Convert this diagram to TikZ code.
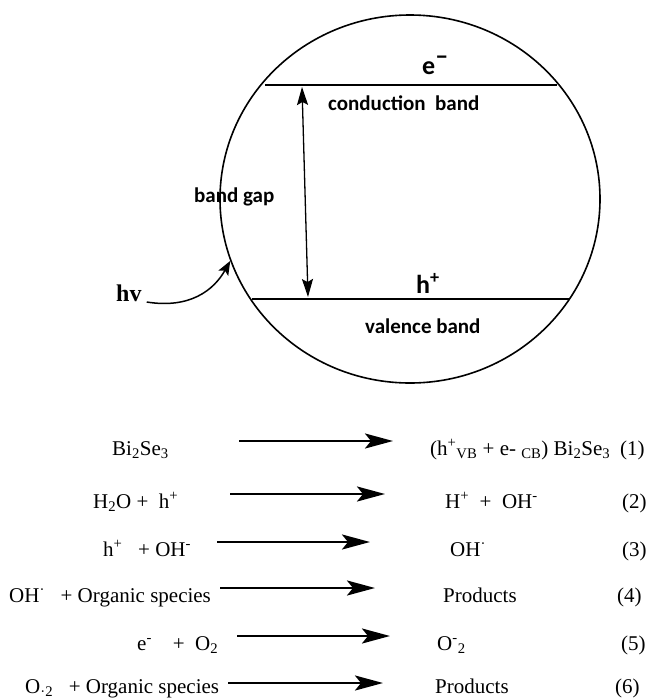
\documentclass[tikz,border=0pt]{standalone}
\usepackage{fontspec}
\setmainfont{Liberation Serif}
\newfontfamily\calfont{Carlito}
\usetikzlibrary{arrows.meta,shapes.geometric}
\tikzset{
  rxn/.style={line width=2.6pt,-{Stealth[length=28pt,width=15pt,inset=6pt]}},
  band/.style={line width=2pt},
  eq/.style={anchor=base west,inner sep=0pt},
  lbl/.style={anchor=base west,inner sep=0pt,font=\calfont\bfseries\fontsize{21}{25}\selectfont},
  carrier/.style={anchor=base west,inner sep=0pt,font=\calfont\bfseries\fontsize{26}{30}\selectfont},
}

\begin{document}
\begin{tikzpicture}[x=1pt,y=-1pt,font=\fontsize{21}{25}\selectfont]
\useasboundingbox (0,0) rectangle (650,699);
\node[draw,ellipse,line width=1.6pt,inner sep=0pt,minimum width=380pt,minimum height=368pt] (grain) at (410,199) {};
\coordinate (cbL) at (265,85); \coordinate (cbR) at (557,85);
\coordinate (vbL) at (252,299); \coordinate (vbR) at (570,299);
\draw[band] (cbL) -- (cbR); \draw[band] (vbL) -- (vbR);
\coordinate (gapT) at (302,87); \coordinate (gapB) at (308,297);
\draw[line width=1.3pt,{Stealth[length=18pt,width=11pt,inset=3pt]}-{Stealth[length=18pt,width=11pt,inset=3pt]}] (gapT) -- (gapB);
\node[carrier] (elec) at (422,74) {e\textsuperscript{\fontsize{26}{26}\selectfont –}};
\node[carrier] (hole) at (416,293) {h\textsuperscript{+}};
\node[lbl] (cb) at (328,110) {conduction\ \ band};
\node[lbl] (gap) at (194,202) {band gap};
\node[lbl] (vb) at (365,333) {valence band};
\node[eq,font=\bfseries\fontsize{24}{28}\selectfont] (hv) at (116,301) {hv};
\draw[line width=1.5pt,-{Stealth[length=14pt,width=11pt,inset=3pt]}] ([xshift=5pt,yshift=-1pt]hv.base east) .. controls (190,309) and (214,290) .. (grain.199);
\foreach \n/\xa/\xb/\yy/\bl/\xn in {1/239/393/441/455/620,2/230/385/494/508/622,3/217/370/542/556/622,4/220/375/588/602/617,5/237/390/636/650/621,6/228/383/683/693/615} {
  \coordinate (s\n) at (\xa,\yy); \coordinate (t\n) at (\xb,\yy);
  \draw[rxn] (s\n) -- (t\n);
  \node[eq] (num\n) at (\xn,\bl) {(\n)};
}
\node[eq] (r1) at (112,455) {Bi\textsubscript{2}Se\textsubscript{3}};
\node[eq] (p1) at (430,455) {(h\textsuperscript{+}\textsubscript{VB} + e- \textsubscript{CB}) Bi\textsubscript{2}Se\textsubscript{3}};
\node[eq] (r2) at (93,508) {H\textsubscript{2}O + \ h\textsuperscript{+}};
\node[eq] (p2) at (445,508) {H\textsuperscript{+} \ + \ OH\textsuperscript{-}};
\node[eq] (r3) at (103,556) {h\textsuperscript{+} \ \ + OH\textsuperscript{-}};
\node[eq] (p3) at (450,556) {OH\textsuperscript{·}};
\node[eq] (r4) at (9,602) {OH\textsuperscript{·} \ \ + Organic species};
\node[eq] (p4) at (443,602) {Products};
\node[eq] (r5) at (137,650) {e\textsuperscript{-} \ \ \ + \ O\textsubscript{2}};
\node[eq] (p5) at (437,650) {O\textsuperscript{-}\textsubscript{2}};
\node[eq] (r6) at (25,693) {O\textsubscript{·2} \ \ + Organic species};
\node[eq] (p6) at (435,693) {Products};
\end{tikzpicture}
\end{document}
